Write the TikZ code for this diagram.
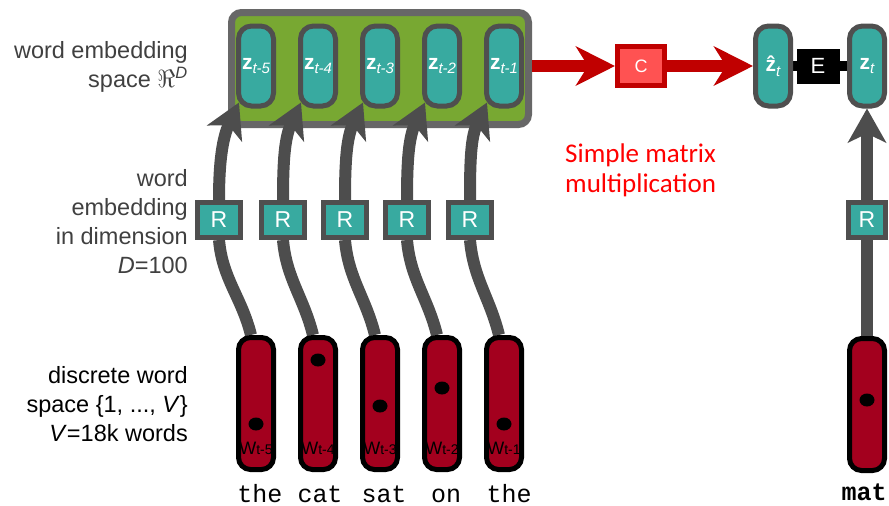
\documentclass[tikz,border=0pt]{standalone}
\usepackage{fontspec}
\setmainfont{Liberation Sans}
\setmonofont{Liberation Mono}
\newfontfamily\calibri{Carlito}
\usetikzlibrary{positioning}
\usetikzlibrary{arrows.meta}
\pgfdeclarelayer{back}
\pgfdeclarelayer{mid}
\pgfsetlayers{back,mid,main}
\definecolor{zteal}{HTML}{38AAA0}
\definecolor{boxgray}{HTML}{4F4F4F}
\definecolor{embgreen}{HTML}{78A832}
\definecolor{embgray}{HTML}{676767}
\definecolor{wordred}{HTML}{A3001E}
\definecolor{cfill}{HTML}{FF5252}
\definecolor{cborder}{HTML}{C00000}
\definecolor{arrgray}{HTML}{4D4D4D}
\definecolor{labgray}{HTML}{404040}
\newcommand\zsub[1]{\raisebox{-4.5pt}{\fontsize{15}{15}\selectfont\itshape #1}}
\newcommand\wsub[1]{{\fontsize{18}{18}\selectfont W}{\fontsize{14}{14}\selectfont t-#1}}

\begin{document}
\begin{tikzpicture}[x=1pt,y=1pt,on grid,
	zbox/.style={draw=boxgray,fill=zteal,line width=5pt,rounded corners=13pt,minimum width=35pt,minimum height=80pt,inner sep=0pt,text=white,font=\fontsize{21}{21}\selectfont},
	embbox/.style={draw=embgray,fill=embgreen,line width=7pt,rounded corners=10pt,minimum width=297pt,minimum height=112pt},
	rbox/.style={draw=boxgray,fill=zteal,line width=5pt,minimum width=43pt,minimum height=35pt,inner sep=0pt,text=white,font=\fontsize{23}{23}\selectfont},
	wbox/.style={draw=black,fill=wordred,line width=5pt,rounded corners=12pt,minimum width=35pt,minimum height=132pt},
	wlab/.style={inner sep=0pt,text=black},
	word/.style={inner sep=0pt,anchor=base,font=\ttfamily\fontsize{25}{25}\selectfont},
	cbox/.style={draw=cborder,fill=cfill,line width=5pt,minimum width=47pt,minimum height=39pt,inner sep=0pt,text=white,font=\fontsize{18}{18}\selectfont},
	ebox/.style={fill=black,minimum width=43pt,minimum height=35pt,inner sep=0pt,text=white,font=\fontsize{22}{22}\selectfont},
	lab/.style={inner sep=0pt,align=right,anchor=east,font=\fontsize{23.5}{29}\selectfont},
	gline/.style={draw=arrgray,line width=12pt},
	garrow/.style={draw=arrgray,line width=12pt,-{Stealth[length=34pt,width=38pt,inset=9pt]}},
	rarrow/.style={draw=cborder,line width=12pt,-{Stealth[length=39pt,width=39pt,inset=12pt]}}]
	\useasboundingbox (0,0) rectangle (889,-506);
	%% 词向量
	\node[zbox] (z1) at (256,-66) {\textbf{z}\zsub{t-5}};
	\node[zbox,right=62 of z1] (z2) {\textbf{z}\zsub{t-4}};
	\node[zbox,right=62 of z2] (z3) {\textbf{z}\zsub{t-3}};
	\node[zbox,right=62 of z3] (z4) {\textbf{z}\zsub{t-2}};
	\node[zbox,right=62 of z4] (z5) {\textbf{z}\zsub{t-1}};
	\begin{pgfonlayer}{back}
		\node[embbox] (emb) at (380,-68.5) {};
	\end{pgfonlayer}
	%% R
	\node[rbox,below left=154 and 37 of z1] (r1) {R};
	\node[rbox,below left=154 and 35 of z2] (r2) {R};
	\node[rbox,below left=154 and 35 of z3] (r3) {R};
	\node[rbox,below left=154 and 35 of z4] (r4) {R};
	\node[rbox,below left=154 and 34 of z5] (r5) {R};
	%% 离散词
	\node[wbox,below=337.5 of z1] (w1) {};
	\node[wbox,below=337.5 of z2] (w2) {};
	\node[wbox,below=337.5 of z3] (w3) {};
	\node[wbox,below=337.5 of z4] (w4) {};
	\node[wbox,below=337.5 of z5] (w5) {};
	\node[wlab,above=17 of w1.south] {\wsub{5}};
	\node[wlab,above=17 of w2.south] {\wsub{4}};
	\node[wlab,above=17 of w3.south] {\wsub{3}};
	\node[wlab,above=17 of w4.south] {\wsub{2}};
	\node[wlab,above=17 of w5.south] {\wsub{1}};
	\fill ([yshift=-20.5pt]w1.center) ellipse (7.5pt and 6.5pt);
	\fill ([yshift=43.5pt]w2.center) ellipse (7.5pt and 6.5pt);
	\fill ([yshift=-2.5pt]w3.center) ellipse (7.5pt and 6.5pt);
	\fill ([yshift=15.5pt]w4.center) ellipse (7.5pt and 6.5pt);
	\fill ([yshift=-20.5pt]w5.center) ellipse (7.5pt and 6.5pt);
	\node[word] (t1) at (260,-502) {the};
	\node[word] (t2) at (320,-502) {cat};
	\node[word] (t3) at (384,-502) {sat};
	\node[word] (t4) at (446,-502) {on};
	\node[word] (t5) at (509,-502) {the};
	%% 右侧
	\node[cbox] (c) at (641,-66) {C};
	\node[zbox] (zh) at (773,-66) {\textbf{\^{z}}\zsub{t}};
	\node[zbox,right=94 of zh] (zt) {\textbf{z}\zsub{t}};
	\node[ebox] (e) at (818,-66) {E};
	\node[rbox,minimum width=37pt,below=154 of zt] (r6) {R};
	\node[wbox,below=338.5 of zt] (w6) {};
	\fill ([yshift=4.5pt]w6.center) ellipse (7.5pt and 6.5pt);
	\node[word,font=\ttfamily\bfseries\fontsize{25}{25}\selectfont] (tm) at (864,-500) {mat};
	\node[inner sep=0pt,align=left,anchor=west,text=red,font=\calibri\fontsize{27}{30}\selectfont] (mul) at (565,-170) {Simple matrix\\multiplication};
	%% 左侧说明
	\node[lab,text=labgray] (l1) at (188,-67) {word embedding\\space $\Re$\textsuperscript{\textit{D}}};
	\node[lab,text=labgray] (l2) at (188,-222) {word\\embedding\\in dimension\\\textit{D}=100};
	\node[lab,text=black] (l3) at (188,-404) {discrete word\\space \{1, ..., \textit{V}\}\\\textit{V}=18k words};
	% 对各个节点连线
	\begin{pgfonlayer}{mid}
		\draw[gline] ([xshift=-5pt]w1.north) to[out=104,in=275] (r1.south);
		\draw[gline] ([xshift=-5pt]w2.north) to[out=104,in=275] (r2.south);
		\draw[gline] ([xshift=-5pt]w3.north) to[out=104,in=275] (r3.south);
		\draw[gline] ([xshift=-5pt]w4.north) to[out=104,in=275] (r4.south);
		\draw[gline] ([xshift=-5pt]w5.north) to[out=104,in=275] (r5.south);
		\draw[garrow] (r1.north) to[out=90,in=245] ([shift={(3,6)}]z1.south west);
		\draw[garrow] (r2.north) to[out=90,in=245] ([shift={(3,6)}]z2.south west);
		\draw[garrow] (r3.north) to[out=90,in=245] ([shift={(3,6)}]z3.south west);
		\draw[garrow] (r4.north) to[out=90,in=245] ([shift={(3,6)}]z4.south west);
		\draw[garrow] (r5.north) to[out=90,in=245] ([shift={(3,6)}]z5.south west);
		\draw[gline] (w6) -- (r6);
		\draw[garrow] (r6) -- (zt);
		\draw[line width=10pt] (zh) -- (zt);
	\end{pgfonlayer}
	\draw[rarrow] (emb.east |- c.west) -- (c.west);
	\draw[rarrow] (c) -- (zh);
\end{tikzpicture}
\end{document}
